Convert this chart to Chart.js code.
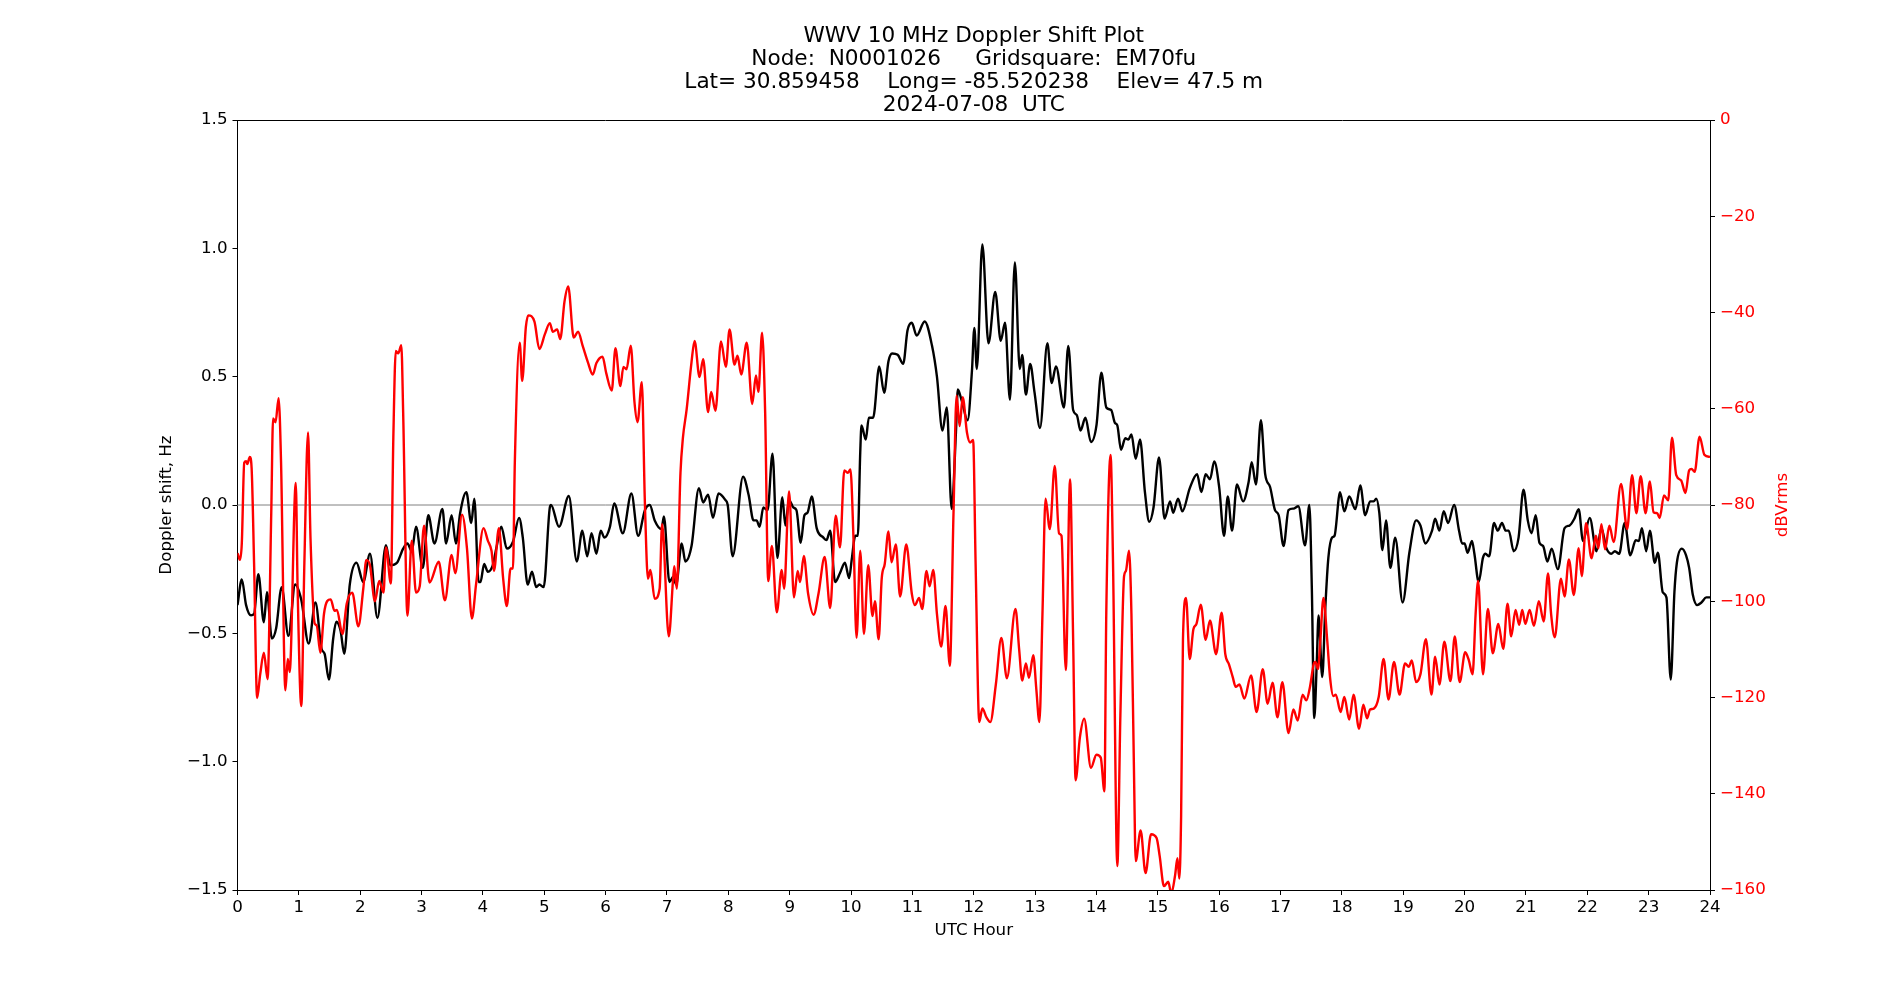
<!DOCTYPE html>
<html>
<head>
<meta charset="utf-8">
<title>WWV 10 MHz Doppler Shift Plot</title>
<script src="https://cdn.jsdelivr.net/npm/chart.js@4.4.1/dist/chart.umd.min.js"></script>
<style>
  html, body { margin: 0; padding: 0; background: #fff; }
  #wrap { width: 1900px; height: 1000px; }
</style>
</head>
<body>
<div id="wrap"><canvas id="plot" width="1900" height="1000"></canvas></div>
<script>
/* ---- data ---- */
const titleLines = [
    'WWV 10 MHz Doppler Shift Plot',
    'Node:  N0001026     Gridsquare:  EM70fu',
    'Lat= 30.859458    Long= -85.520238    Elev= 47.5 m',
    '2024-07-08  UTC'
];

// Doppler shift (Hz), black trace
const dopHours = [0.00,0.07,0.14,0.22,0.27,0.34,0.43,0.48,0.56,0.63,0.72,0.83,0.94,1.04,1.16,1.27,1.37,1.42,1.49,1.56,1.61,1.68,1.74,1.83,1.94,2.05,2.16,2.28,2.42,2.49,2.60,2.70,2.77,2.84,2.91,3.02,3.11,3.21,3.34,3.40,3.49,3.56,3.63,3.73,3.81,3.86,3.93,3.96,4.02,4.08,4.16,4.22,4.30,4.39,4.49,4.59,4.65,4.73,4.80,4.87,4.92,4.99,5.09,5.11,5.24,5.40,5.53,5.62,5.70,5.77,5.85,5.92,5.98,6.07,6.14,6.28,6.42,6.53,6.64,6.72,6.80,6.91,6.95,7.04,7.10,7.15,7.24,7.30,7.40,7.52,7.59,7.67,7.75,7.84,7.95,7.99,8.07,8.24,8.33,8.41,8.46,8.51,8.57,8.64,8.72,8.80,8.88,8.93,8.99,9.06,9.11,9.18,9.24,9.29,9.36,9.44,9.55,9.60,9.66,9.74,9.82,9.90,9.97,10.01,10.07,10.11,10.15,10.17,10.24,10.29,10.36,10.46,10.54,10.61,10.67,10.76,10.85,10.92,10.99,11.07,11.20,11.32,11.40,11.49,11.56,11.64,11.71,11.74,11.80,11.90,11.97,12.01,12.05,12.14,12.24,12.35,12.44,12.51,12.59,12.67,12.75,12.79,12.85,12.92,12.99,13.08,13.20,13.27,13.34,13.47,13.54,13.62,13.68,13.74,13.82,13.91,14.00,14.08,14.16,14.24,14.30,14.34,14.40,14.47,14.52,14.57,14.64,14.71,14.79,14.86,14.93,15.02,15.11,15.20,15.25,15.33,15.40,15.52,15.64,15.71,15.78,15.85,15.92,16.00,16.08,16.14,16.21,16.29,16.39,16.48,16.53,16.60,16.68,16.75,16.83,16.91,16.97,17.05,17.13,17.21,17.29,17.40,17.47,17.51,17.55,17.59,17.62,17.68,17.73,17.78,17.84,17.88,17.97,18.04,18.12,18.22,18.30,18.38,18.46,18.52,18.56,18.61,18.66,18.72,18.79,18.87,18.99,19.10,19.21,19.28,19.36,19.47,19.52,19.59,19.66,19.73,19.83,19.91,19.96,20.00,20.05,20.12,20.16,20.23,20.30,20.34,20.40,20.48,20.54,20.61,20.67,20.72,20.80,20.88,20.96,21.03,21.09,21.16,21.22,21.28,21.35,21.42,21.52,21.63,21.71,21.79,21.86,21.93,22.04,22.15,22.23,22.31,22.39,22.45,22.52,22.61,22.70,22.79,22.84,22.89,22.96,23.02,23.10,23.15,23.23,23.29,23.36,23.42,23.46,23.54,23.61,23.66,23.72,23.79,23.86,23.94,24.00];
const dopShift = [-0.39,-0.29,-0.39,-0.43,-0.425,-0.27,-0.457,-0.34,-0.52,-0.48,-0.32,-0.51,-0.31,-0.37,-0.54,-0.38,-0.56,-0.58,-0.68,-0.52,-0.455,-0.49,-0.58,-0.31,-0.225,-0.30,-0.19,-0.44,-0.157,-0.235,-0.225,-0.17,-0.15,-0.18,-0.085,-0.245,-0.04,-0.15,-0.015,-0.15,-0.04,-0.15,-0.03,0.05,-0.07,0.025,-0.30,-0.30,-0.23,-0.26,-0.235,-0.167,-0.085,-0.17,-0.143,-0.05,-0.127,-0.31,-0.26,-0.32,-0.31,-0.32,-0.01,0.0,-0.085,0.035,-0.22,-0.10,-0.20,-0.11,-0.19,-0.10,-0.127,-0.085,0.006,-0.11,0.045,-0.12,-0.02,0.0,-0.06,-0.094,-0.045,-0.30,-0.28,-0.31,-0.15,-0.22,-0.16,0.065,0.01,0.04,-0.05,0.045,0.02,0.0,-0.20,0.11,0.04,-0.06,-0.06,-0.085,-0.01,-0.02,0.20,-0.206,0.03,-0.08,0.02,-0.01,-0.02,-0.147,-0.04,-0.03,0.033,-0.09,-0.127,-0.137,-0.10,-0.30,-0.265,-0.225,-0.285,-0.215,-0.12,-0.12,0.205,0.31,0.255,0.34,0.34,0.54,0.437,0.56,0.59,0.585,0.55,0.68,0.71,0.66,0.715,0.62,0.50,0.29,0.38,-0.015,0.285,0.45,0.41,0.33,0.52,0.69,0.53,1.015,0.63,0.83,0.64,0.71,0.41,0.945,0.53,0.585,0.43,0.55,0.44,0.30,0.63,0.475,0.54,0.38,0.62,0.37,0.35,0.29,0.34,0.245,0.31,0.515,0.38,0.37,0.32,0.31,0.215,0.26,0.255,0.275,0.18,0.255,0.05,-0.065,-0.01,0.185,-0.053,0.014,-0.03,0.025,-0.025,0.065,0.12,0.05,0.12,0.10,0.17,0.07,-0.12,0.033,-0.10,0.08,0.014,0.09,0.167,0.08,0.33,0.12,0.07,-0.02,-0.04,-0.16,-0.02,-0.014,-0.005,-0.157,0.0,-0.32,-0.83,-0.62,-0.43,-0.67,-0.40,-0.205,-0.127,-0.12,0.05,-0.025,0.033,-0.016,0.076,-0.04,0.014,0.014,0.025,-0.03,-0.176,-0.06,-0.245,-0.127,-0.38,-0.186,-0.06,-0.08,-0.15,-0.10,-0.053,-0.10,-0.024,-0.07,0.0,-0.10,-0.15,-0.15,-0.186,-0.14,-0.19,-0.30,-0.205,-0.19,-0.20,-0.07,-0.10,-0.07,-0.10,-0.10,-0.18,-0.127,0.06,-0.06,-0.11,-0.04,-0.147,-0.16,-0.22,-0.17,-0.25,-0.09,-0.08,-0.053,-0.016,-0.14,-0.05,-0.18,-0.09,-0.167,-0.19,-0.18,-0.19,-0.07,-0.196,-0.137,-0.14,-0.09,-0.18,-0.10,-0.225,-0.186,-0.34,-0.36,-0.68,-0.34,-0.225,-0.17,-0.196,-0.245,-0.35,-0.39,-0.38,-0.36,-0.36];

// received power (dBVrms), red trace on the right axis
const pwrHours = [0.00,0.04,0.07,0.11,0.14,0.16,0.20,0.23,0.27,0.32,0.37,0.43,0.49,0.55,0.58,0.62,0.67,0.71,0.78,0.82,0.85,0.95,0.98,1.04,1.09,1.15,1.19,1.26,1.29,1.35,1.41,1.46,1.52,1.58,1.62,1.71,1.78,1.87,1.97,2.05,2.10,2.16,2.24,2.31,2.38,2.42,2.50,2.54,2.58,2.62,2.67,2.70,2.77,2.84,2.91,2.97,3.04,3.13,3.28,3.38,3.49,3.55,3.66,3.74,3.82,3.89,4.01,4.08,4.14,4.18,4.26,4.33,4.39,4.45,4.49,4.52,4.60,4.64,4.70,4.74,4.84,4.92,5.01,5.09,5.14,5.21,5.26,5.33,5.39,5.48,5.55,5.63,5.71,5.79,5.85,5.95,6.01,6.10,6.16,6.24,6.29,6.34,6.41,6.47,6.52,6.59,6.64,6.69,6.73,6.80,6.88,6.92,7.03,7.10,7.12,7.16,7.22,7.26,7.32,7.40,7.45,7.53,7.59,7.67,7.72,7.79,7.88,7.96,8.02,8.10,8.15,8.21,8.30,8.39,8.45,8.49,8.55,8.60,8.65,8.71,8.79,8.87,8.91,8.99,9.07,9.13,9.17,9.23,9.30,9.39,9.47,9.57,9.66,9.75,9.82,9.89,9.95,9.99,10.04,10.09,10.15,10.21,10.28,10.35,10.39,10.45,10.50,10.55,10.61,10.66,10.73,10.80,10.90,10.99,11.04,11.11,11.16,11.23,11.28,11.34,11.40,11.47,11.54,11.61,11.67,11.72,11.77,11.82,11.89,11.94,11.99,12.03,12.09,12.14,12.21,12.27,12.36,12.45,12.54,12.68,12.74,12.79,12.85,12.90,12.97,13.02,13.07,13.12,13.17,13.24,13.32,13.39,13.43,13.50,13.57,13.62,13.66,13.73,13.80,13.91,14.00,14.07,14.13,14.16,14.23,14.27,14.34,14.39,14.45,14.48,14.53,14.57,14.61,14.64,14.72,14.80,14.89,14.98,15.03,15.10,15.17,15.22,15.28,15.32,15.35,15.38,15.41,15.46,15.52,15.58,15.63,15.70,15.78,15.85,15.95,16.04,16.10,16.16,16.22,16.27,16.33,16.41,16.52,16.61,16.71,16.79,16.87,16.95,17.03,17.13,17.21,17.28,17.36,17.42,17.48,17.54,17.57,17.61,17.65,17.70,17.76,17.81,17.86,17.90,17.98,18.04,18.12,18.19,18.28,18.35,18.41,18.46,18.52,18.60,18.68,18.76,18.85,18.94,19.03,19.09,19.14,19.21,19.28,19.37,19.46,19.52,19.59,19.67,19.77,19.84,19.92,20.01,20.07,20.13,20.18,20.22,20.30,20.38,20.46,20.55,20.63,20.70,20.76,20.83,20.89,20.94,20.99,21.06,21.13,21.21,21.29,21.36,21.41,21.47,21.57,21.63,21.70,21.78,21.86,21.91,21.98,22.07,22.14,22.18,22.23,22.29,22.36,22.43,22.55,22.65,22.73,22.80,22.87,22.95,23.02,23.08,23.14,23.18,23.25,23.32,23.38,23.45,23.53,23.60,23.66,23.70,23.75,23.83,23.91,24.00];
const pwrDb = [-90,-91.4,-88,-71.2,-70.9,-71.5,-70.0,-72.3,-92,-120.1,-115.2,-110.7,-116.2,-81.7,-62.0,-62.8,-57.8,-71.2,-118.5,-112,-114.7,-75.4,-97.4,-121.8,-92,-64.9,-87,-104.7,-105,-110.7,-102.6,-100,-99.6,-102,-101.8,-106.8,-100.5,-98.2,-105.2,-97.4,-91.4,-92.6,-100,-95.8,-98.2,-88.8,-96.3,-66,-48,-48.5,-46.8,-60.7,-103,-87.4,-98.2,-96.9,-84.3,-96.1,-91.8,-99.8,-90.4,-94.2,-82,-89,-103.6,-96.3,-84.8,-87.4,-89.5,-93.7,-84.8,-95.3,-101,-93.2,-93.2,-71.2,-46.3,-54.2,-43,-40.6,-41.9,-47.6,-44.5,-42.2,-44,-43.5,-45.5,-37.7,-34.6,-45.2,-44,-47.1,-50.3,-52.9,-50.5,-49.2,-52.6,-56.2,-47.4,-55.3,-51.3,-51.8,-46.9,-58.6,-62.8,-54.5,-79.6,-95.3,-93.5,-99.5,-97.4,-84,-107.3,-95.3,-92.7,-97.4,-73.3,-66,-60.2,-50.3,-45.9,-53.4,-49.7,-60.7,-56.5,-60.4,-46,-51.3,-43.5,-50.8,-49,-52.9,-46.3,-59,-53.1,-56.5,-44.2,-60.7,-95.8,-88.5,-102.3,-93.5,-97.4,-77.2,-99.2,-93.7,-96,-90.6,-98.4,-102.8,-98.4,-90.8,-101.4,-82.2,-88.8,-72.8,-73.3,-72.6,-87,-107.6,-89.5,-106.8,-92.5,-103.1,-100,-107.9,-95.3,-92.2,-85.5,-91.9,-88.2,-99,-88.2,-98.4,-100.8,-99.3,-101.6,-93.7,-96.9,-93.5,-102.6,-109.4,-101,-113.4,-81.7,-57.3,-63.6,-57.6,-65,-67,-66.5,-92,-125.1,-122.3,-124.2,-125.1,-117.3,-107.6,-116,-101.6,-110,-116.5,-112.9,-115.9,-111.2,-118.3,-125.1,-102.6,-78.7,-85,-71.9,-85.9,-86.4,-114.3,-74.7,-107.9,-137.2,-128.3,-124.4,-134.6,-131.9,-132.5,-139.5,-102.6,-69.6,-92,-155,-123.6,-94.8,-93.7,-89.5,-102.6,-134,-154,-147.6,-156.5,-148.4,-149.2,-152.9,-159.2,-158.3,-160.7,-157.1,-153.4,-157.6,-144.5,-107.9,-99.3,-112,-105.8,-104.7,-100.7,-108,-104,-111,-102.4,-111,-113.1,-115.7,-117.8,-117.3,-120.2,-115.4,-123,-114.1,-121.3,-116.9,-124.1,-116.8,-127.4,-122.5,-124.8,-119.4,-120.6,-117.8,-113.1,-112.6,-114.1,-107.9,-99.3,-107.9,-116.2,-119.7,-119.4,-123,-119.9,-124.6,-119.4,-126.5,-121.5,-124.3,-122.5,-122.3,-119.9,-112,-120.4,-112.6,-119.4,-112.9,-113.6,-112.3,-116.8,-115.2,-107.9,-119.4,-111.5,-117.3,-108.4,-116.6,-107.3,-116.8,-110.6,-112.3,-115.2,-102.6,-95.8,-115.2,-101.6,-110.8,-104.7,-109.9,-100.5,-107.3,-101.8,-104.9,-101.8,-104.7,-101.8,-105.1,-100,-104.2,-94.2,-102.6,-107.5,-95.3,-99,-91.3,-98.7,-89,-94.8,-83.8,-91.1,-86.4,-89,-84,-89.2,-84.3,-87.7,-75.6,-85,-73.8,-81.7,-74,-81.7,-75.1,-81.5,-81.7,-82.7,-78,-79,-66,-73.8,-74.9,-77.5,-72.8,-72.5,-73.1,-65.8,-69.6,-70];

// horizontal reference at zero shift
const zeroHours = [0, 24];
const zeroShift = [0, 0];

/* ---- chart ---- */
const FONT = 'DejaVu Sans';
const toPts = (xs, ys) => xs.map((x, i) => ({ x: x, y: ys[i] }));
const minusFmt = (v, digits) => (v < 0 ? '\u2212' : '') + Math.abs(v).toFixed(digits);

// title and axis labels placed the way matplotlib puts them (centred on the axes box)
const axisLabels = {
    id: 'axisLabels',
    afterDraw(chart) {
        const c = chart.ctx, a = chart.chartArea;
        const midX = (a.left + a.right) / 2, midY = (a.top + a.bottom) / 2;
        c.save();
        c.textAlign = 'center';
        c.textBaseline = 'middle';
        c.fillStyle = '#000';
        c.font = '21.6px "' + FONT + '"';
        titleLines.forEach((t, i) => c.fillText(t, midX, 36 + i * 23));

        c.font = '16.7px "' + FONT + '"';
        c.fillText('UTC Hour', midX, 931);

        c.translate(167, midY);
        c.rotate(-Math.PI / 2);
        c.fillText('Doppler shift, Hz', 0, 0);
        c.restore();

        c.save();
        c.font = '16.7px "' + FONT + '"';
        c.textAlign = 'center';
        c.textBaseline = 'middle';
        c.fillStyle = '#ff0000';
        c.translate(1783, midY);
        c.rotate(-Math.PI / 2);
        c.fillText('dBVrms', 0, 0);
        c.restore();
    }
};

const tickFont = { family: FONT, size: 16.7 };

new Chart(document.getElementById('plot'), {
    type: 'line',
    data: {
        datasets: [
            { label: 'dBVrms', data: toPts(pwrHours, pwrDb), yAxisID: 'y2', order: 0,
              borderColor: '#ff0000', borderWidth: 2.4, pointRadius: 0, cubicInterpolationMode: 'monotone' },
            { label: 'Doppler', data: toPts(dopHours, dopShift), yAxisID: 'y', order: 1,
              borderColor: '#000000', borderWidth: 2.4, pointRadius: 0, cubicInterpolationMode: 'monotone' },
            { label: 'zero', data: toPts(zeroHours, zeroShift), yAxisID: 'y', order: 2,
              borderColor: '#808080', borderWidth: 1, pointRadius: 0 }
        ]
    },
    options: {
        responsive: false, animation: false, devicePixelRatio: 1,
        parsing: false, normalized: true,
        layout: { padding: { top: 120, left: 0, right: 0, bottom: 0 } },
        plugins: {
            legend: { display: false },
            tooltip: { enabled: false },
            title: { display: false }
        },
        scales: {
            x: {
                type: 'linear', position: 'bottom', min: 0, max: 24,
                ticks: { stepSize: 1, autoSkip: false, maxRotation: 0, color: '#000', font: tickFont, padding: 3 },
                grid: { drawOnChartArea: false, tickLength: 5, color: '#000', tickWidth: 1 },
                border: { color: '#000', width: 1 },
                afterFit: s => { s.height = 110; }
            },
            xTop: {
                type: 'linear', position: 'top', min: 0, max: 24,
                ticks: { display: false },
                grid: { display: false },
                border: { display: true, color: '#000', width: 1 },
                afterFit: s => { s.height = 0; }
            },
            y: {
                type: 'linear', position: 'left', min: -1.5, max: 1.5,
                ticks: { stepSize: 0.5, color: '#000', font: tickFont, padding: 5, callback: v => minusFmt(v, 1) },
                grid: { drawOnChartArea: false, tickLength: 5, color: '#000', tickWidth: 1 },
                border: { color: '#000', width: 1 },
                afterFit: s => { s.width = 237.5; }
            },
            y2: {
                type: 'linear', position: 'right', min: -160, max: 0,
                ticks: { stepSize: 20, color: '#ff0000', font: tickFont, padding: 5, callback: v => minusFmt(v, 0) },
                grid: { drawOnChartArea: false, tickLength: 5, color: '#000', tickWidth: 1 },
                border: { color: '#000', width: 1 },
                afterFit: s => { s.width = 190; }
            }
        }
    },
    plugins: [axisLabels]
});
</script>
</body>
</html>
